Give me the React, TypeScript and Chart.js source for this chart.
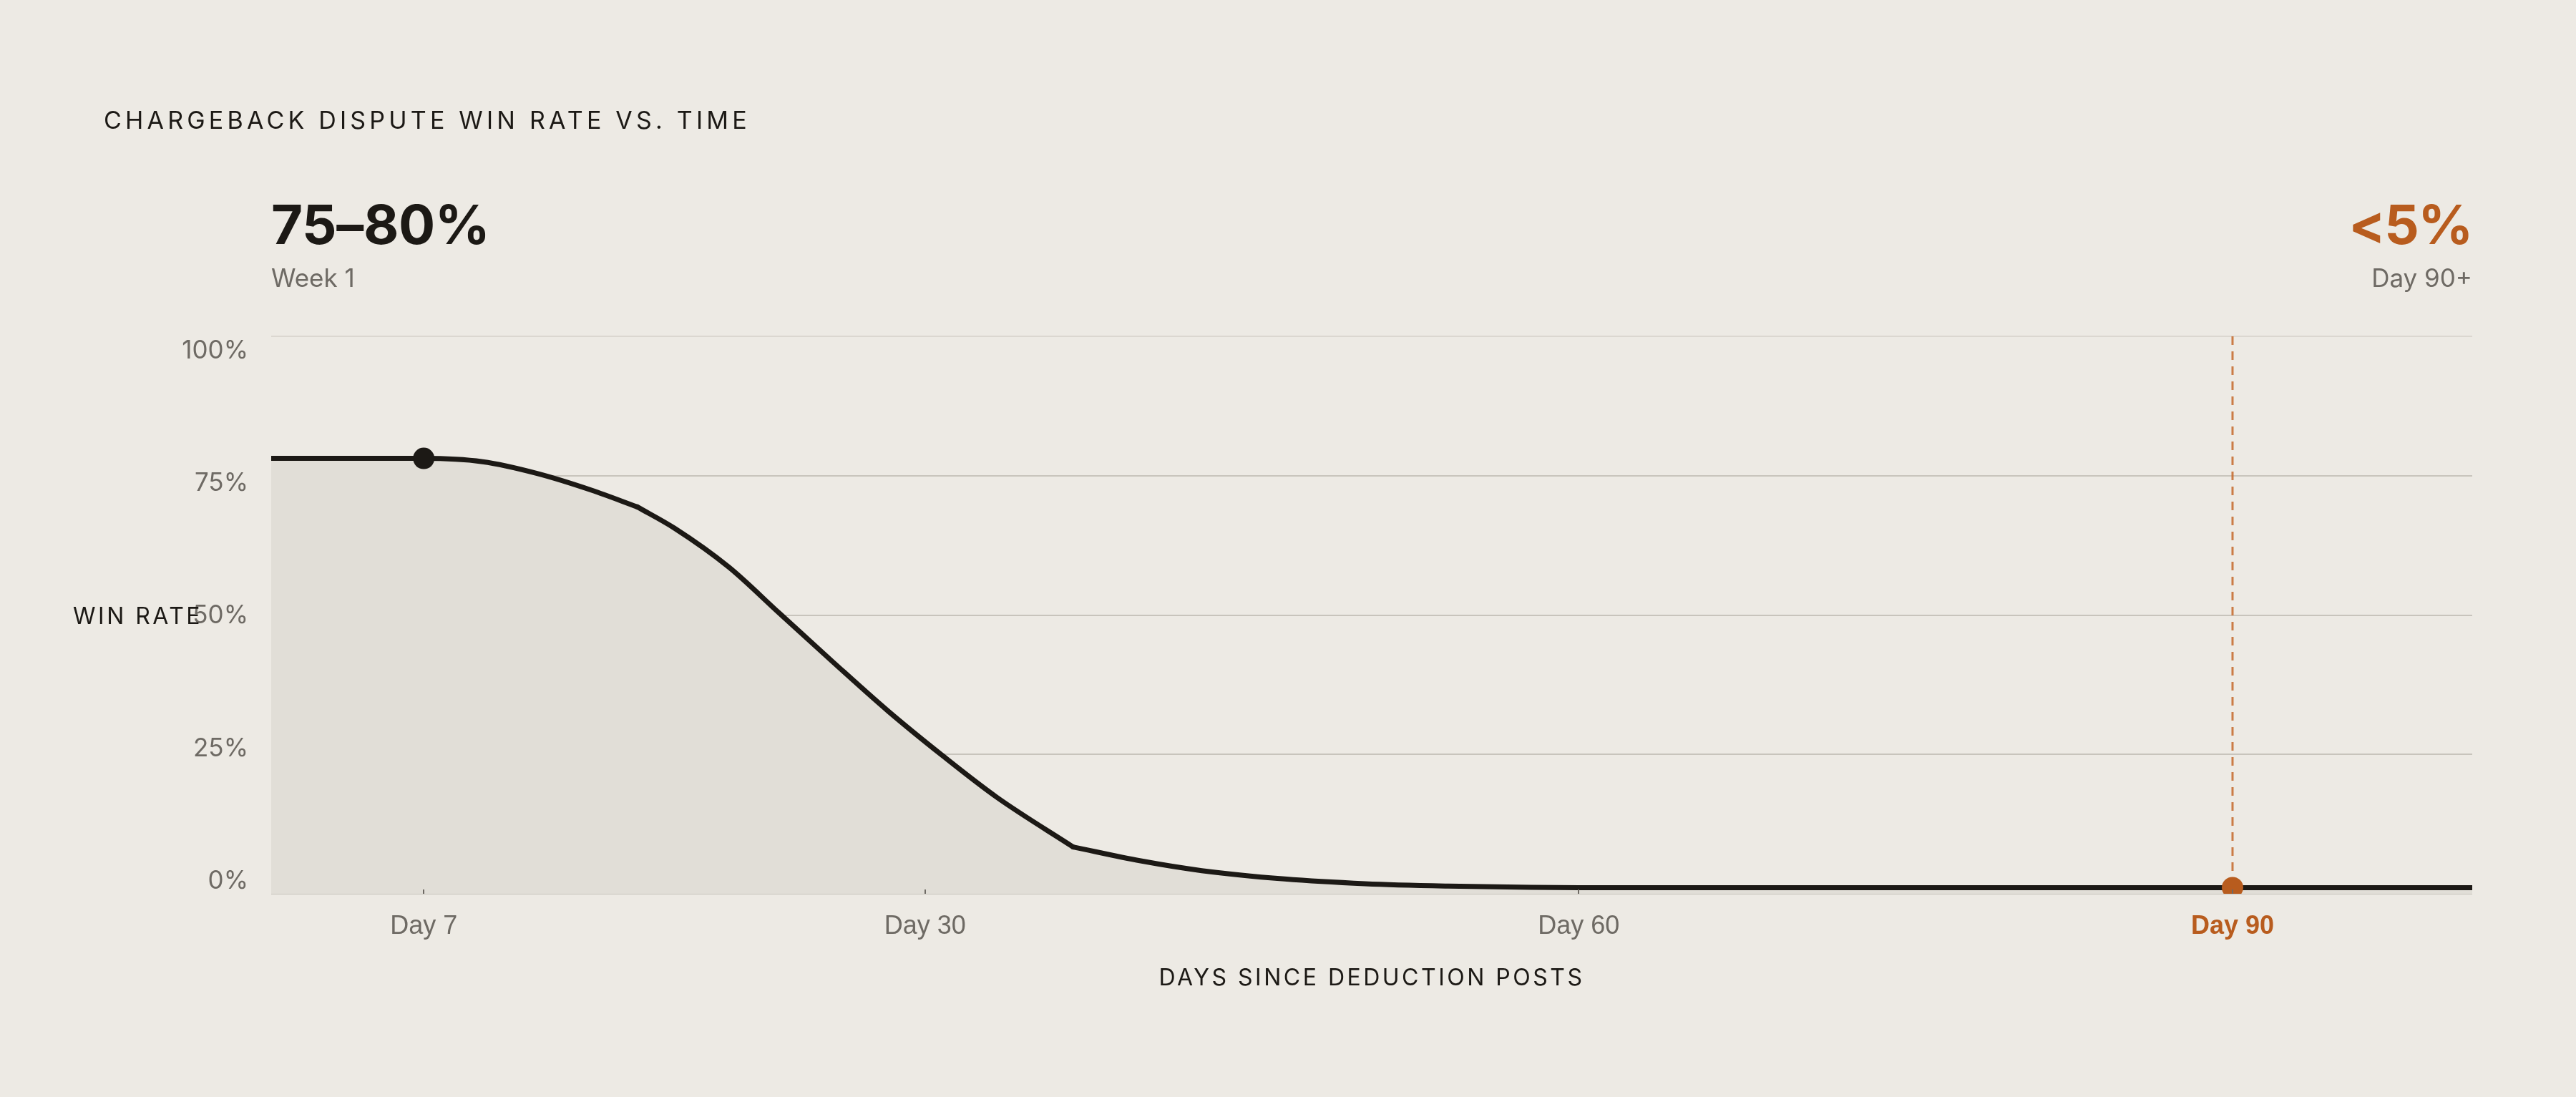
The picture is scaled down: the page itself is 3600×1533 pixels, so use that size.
import { useEffect, useRef } from "react";
import { Chart, registerables } from "chart.js";

Chart.register(...registerables);

// days since the deduction posted, and the dispute win rate (%)
const days = [0, 7, 9.7, 12.2, 14.7, 16.8, 18.5, 21.0, 23.3, 25.8, 28.3, 30.8, 33.3, 36.8, 39.9, 42.7, 46.5, 50.2, 54.0, 57.8, 60, 90, 101];
const winRate = [78.1, 78.1, 77.5, 75.4, 72.4, 69.4, 65.6, 58.6, 50.4, 41.5, 32.8, 24.8, 17.3, 8.4, 5.9, 4.15, 2.65, 1.8, 1.37, 1.15, 1.1, 1.1, 1.1];
// the curve has visible corners here, so the line is drawn as separate smooth pieces
const kinkDays = [16.8, 36.8];

const xTicks = [7, 30, 60, 90];
const yTicks = [0, 25, 50, 75, 100];
const markedDays = [7, 90];
const deadlineDay = 90;

const BG = "#EDEAE4";
const INK = "#1C1915";
const GREY = "#6E6A64";
const RUST = "#B85C1E";
const SANS = "Inter, 'Noto Sans', sans-serif";

const allPoints = days.map((d, i) => ({ x: d, y: winRate[i] }));
const toPoints = (from: number, to: number) => allPoints.filter((p) => p.x >= from && p.x <= to);

const curve = (points: { x: number; y: number }[]) => ({
  data: points,
  yAxisID: "y",
  borderColor: INK,
  borderWidth: 7,
  borderCapStyle: "round" as const,
  fill: false,
  cubicInterpolationMode: "monotone" as const,
  pointRadius: (c: any) => (markedDays.includes(points[c.dataIndex]?.x) ? 15 : 0),
  pointBackgroundColor: (c: any) => (points[c.dataIndex]?.x === deadlineDay ? RUST : INK),
  pointBorderWidth: 0,
});

const bounds = [days[0], ...kinkDays, days[days.length - 1]];
const pieces = bounds.slice(1).map((to, i) => curve(toPoints(bounds[i], to)));

// one shaded area under the whole curve, drawn underneath the line pieces
const area = {
  data: allPoints,
  yAxisID: "y",
  order: 1,
  borderWidth: 0,
  backgroundColor: "#E1DED7",
  fill: "origin",
  tension: 0,
  pointRadius: 0,
};

const App = () => {
  const canvas = useRef<HTMLCanvasElement>(null);

  useEffect(() => {
    document.body.style.margin = "0";
    document.body.style.background = BG;

    // dashed deadline line, little tick marks and the spaced-out axis titles
    const extras = {
      id: "extras",
      beforeDatasetsDraw(chart: any) {
        const { ctx, chartArea, scales } = chart;
        const x = scales.x.getPixelForValue(deadlineDay);
        ctx.save();
        ctx.strokeStyle = "rgba(196, 104, 42, 0.85)";
        ctx.lineWidth = 3;
        ctx.setLineDash([12, 9]);
        ctx.beginPath();
        ctx.moveTo(x, chartArea.top);
        ctx.lineTo(x, chartArea.bottom);
        ctx.stroke();
        ctx.restore();
      },
      afterDatasetsDraw(chart: any) {
        const { ctx, chartArea, scales } = chart;
        ctx.save();
        ctx.strokeStyle = GREY;
        ctx.lineWidth = 2;
        xTicks.forEach((d) => {
          const x = Math.round(scales.x.getPixelForValue(d));
          ctx.beginPath();
          ctx.moveTo(x, chartArea.bottom - 6);
          ctx.lineTo(x, chartArea.bottom);
          ctx.stroke();
        });
        ctx.restore();
      },
      afterDraw(chart: any) {
        const { ctx, chartArea } = chart;
        ctx.save();
        ctx.fillStyle = INK;
        ctx.font = `400 32px ${SANS}`;
        ctx.letterSpacing = "3.5px";
        ctx.textBaseline = "middle";
        ctx.textAlign = "left";
        ctx.fillText("WIN RATE", 102, 862);
        ctx.textAlign = "center";
        ctx.fillText("DAYS SINCE DEDUCTION POSTS", (chartArea.left + chartArea.right) / 2, 1367);
        ctx.restore();
      },
    };

    const chart = new Chart(canvas.current!, {
      type: "line",
      data: { datasets: [...pieces, area] as any },
      plugins: [extras],
      options: {
        animation: false,
        responsive: false,
        devicePixelRatio: 1,
        layout: { padding: { top: 470, right: 145, bottom: 0, left: 0 } },
        plugins: { legend: { display: false }, tooltip: { enabled: false } },
        scales: {
          x: {
            type: "linear",
            min: 0,
            max: 101,
            afterBuildTicks: (axis: any) => {
              axis.ticks = xTicks.map((v) => ({ value: v }));
            },
            afterFit: (axis: any) => {
              axis.height = 284;
            },
            grid: { display: false, drawTicks: false },
            border: { display: false },
            ticks: {
              padding: 24,
              autoSkip: false,
              maxRotation: 0,
              callback: (v: any) => `Day ${v}`,
              color: (c: any) => (c.tick?.value === deadlineDay ? RUST : GREY),
              font: (c: any) => ({
                family: "'Liberation Sans', Arial, sans-serif",
                size: 36,
                weight: c.tick?.value === deadlineDay ? "bold" : "normal",
              }),
            },
          },
          yLabels: {
            position: "left",
            min: -2.3,
            max: 102.7,
            afterBuildTicks: (axis: any) => {
              axis.ticks = yTicks.map((v) => ({ value: v }));
            },
            afterFit: (axis: any) => {
              axis.width = 379;
            },
            grid: { display: false, drawTicks: false },
            border: { display: false },
            ticks: {
              padding: 32,
              color: GREY,
              font: { family: SANS, size: 35 },
              callback: (v: any) => `${v}%`,
            },
          },
          y: {
            position: "left",
            min: 0,
            max: 100,
            afterBuildTicks: (axis: any) => {
              axis.ticks = yTicks.map((v) => ({ value: v }));
            },
            afterFit: (axis: any) => {
              axis.width = 0;
            },
            grid: {
              color: (c: any) => (c.tick?.value === 100 ? "#DBD7D0" : "#C8C4BC"),
              lineWidth: 2,
              drawTicks: false,
            },
            border: { display: false },
            ticks: { display: false },
          },
        },
      },
    });

    return () => {
      chart.destroy();
    };
  }, []);

  return (
    <div style={{ position: "relative", width: 3600, height: 1533, background: BG, overflow: "hidden", fontFamily: SANS }}>
      <canvas ref={canvas} width={3600} height={1533} style={{ position: "absolute", left: 0, top: 0 }} />
      <div style={{ position: "absolute", left: 145, top: 151, fontSize: 34, lineHeight: 1, letterSpacing: "0.153em", color: INK }}>
        CHARGEBACK DISPUTE WIN RATE VS. TIME
      </div>
      <div style={{ position: "absolute", left: 379, top: 275, fontSize: 76, lineHeight: 1, fontWeight: 700, color: INK, letterSpacing: "-0.005em" }}>
        75–80%
      </div>
      <div style={{ position: "absolute", left: 379, top: 371, fontSize: 35, lineHeight: 1, color: GREY }}>Week 1</div>
      <div style={{ position: "absolute", right: 145, top: 275, fontSize: 76, lineHeight: 1, fontWeight: 700, color: RUST, textAlign: "right", letterSpacing: "-0.02em" }}>
        &lt;5%
      </div>
      <div style={{ position: "absolute", right: 145, top: 371, fontSize: 35, lineHeight: 1, color: GREY, textAlign: "right" }}>
        Day 90+
      </div>
    </div>
  );
};

export default App;
